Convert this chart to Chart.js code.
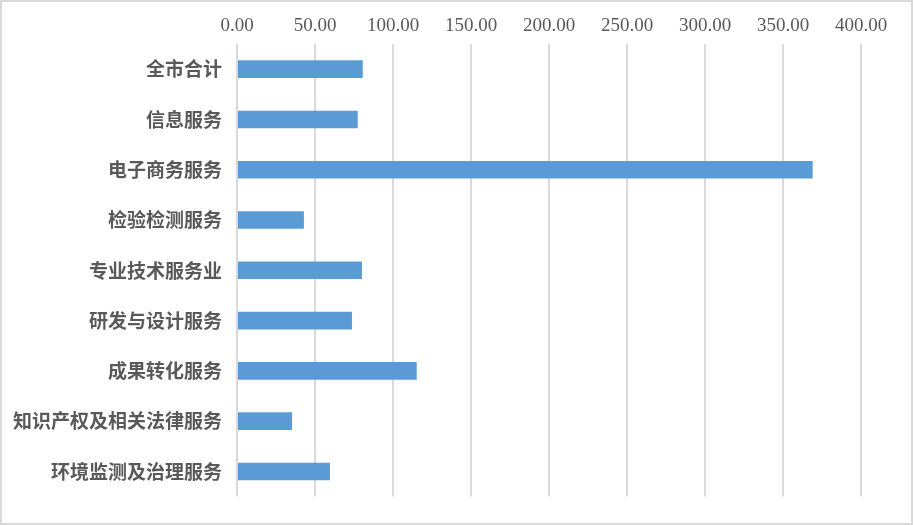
<!DOCTYPE html>
<html>
<head>
<meta charset="utf-8">
<script src="https://cdn.jsdelivr.net/npm/chart.js@4/dist/chart.umd.min.js"></script>
<style>
  html, body { margin: 0; padding: 0; background: #fff; }
  #wrap {
    position: absolute; left: 0; top: 0;
    width: 909px; height: 521px;
    border: 2px solid #d9d9d9;
    background: #fff;
  }
  #grafico { display: block; }
</style>
</head>
<body>
<div id="wrap"><canvas id="grafico" width="909" height="521"></canvas></div>
<script>
const categorias = ['全市合计', '信息服务', '电子商务服务', '检验检测服务', '专业技术服务业',
  '研发与设计服务', '成果转化服务', '知识产权及相关法律服务', '环境监测及治理服务'];
const valores = [80.6, 77.4, 369.0, 42.9, 80.1, 73.7, 115.2, 35.3, 59.6];
const ejeMin = 0;
const ejeMax = 400;
const ejePaso = 50;

const grisTexto = '#595959';
const grisLinea = '#d9d9d9';

const ctx = document.getElementById('grafico').getContext('2d');

new Chart(ctx, {
    type: 'bar',
    data: {
        labels: categorias,
        datasets: [{
            label: 'valor',
            data: valores,
            backgroundColor: '#5b9bd5',
            borderWidth: 0,
            categoryPercentage: 1,
            barPercentage: 0.35,
        }],
    },
    options: {
        indexAxis: 'y',
        responsive: false,
        animation: false,
        layout: { padding: { top: 0, left: 0, right: 50, bottom: 21 } },
        plugins: { legend: { display: false }, tooltip: { enabled: false } },
        scales: {
            x: {
                position: 'top',
                min: ejeMin,
                max: ejeMax,
                ticks: {
                    stepSize: ejePaso,
                    color: grisTexto,
                    padding: 7,
                    font: { family: '"Liberation Serif", "Noto Sans CJK SC", serif', size: 19 },
                    callback: v => Number(v).toFixed(2),
                },
                grid: { color: grisLinea, lineWidth: 2, drawTicks: false },
                border: { display: false },
                afterFit: scale => { scale.height = 42; },
            },
            y: {
                ticks: {
                    color: grisTexto,
                    padding: 15,
                    font: { family: '"Noto Sans CJK SC", sans-serif', size: 19, weight: 'bold' },
                },
                grid: { display: false, drawTicks: false },
                border: { display: false },
                afterFit: scale => { scale.width = 235; },
            },
        },
    },
});
</script>
</body>
</html>
